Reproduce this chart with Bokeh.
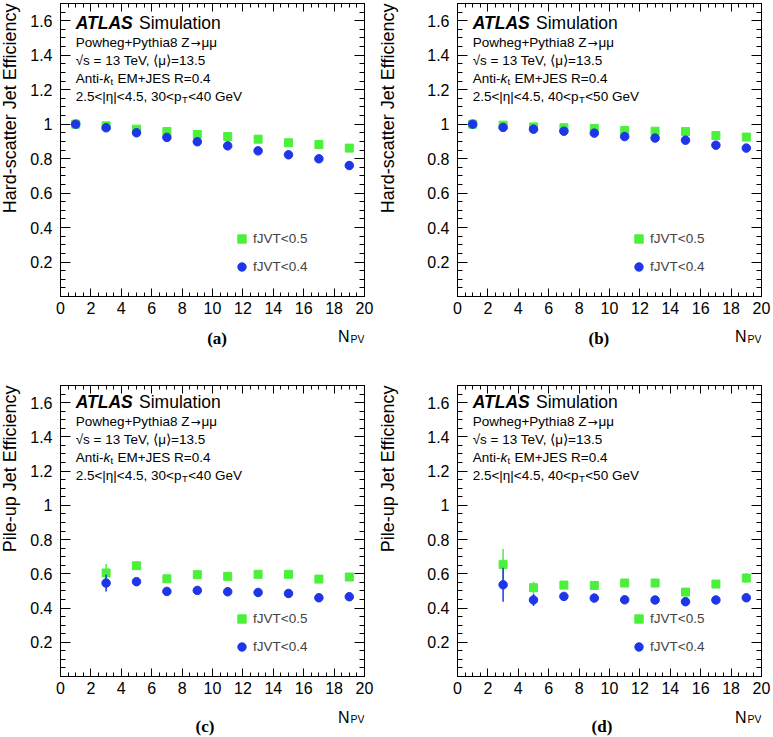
import numpy as np
from bokeh.plotting import figure
from bokeh.models import FixedTicker, LinearAxis, Range1d, Label, Legend, LegendItem
from bokeh.layouts import column, row
from bokeh.embed import file_html
from bokeh.resources import INLINE

# ---------------- data ----------------
npv_hs = [1, 3, 5, 7, 9, 11, 13, 15, 17, 19]
hs30_fjvt05 = [1.000, 0.990, 0.971, 0.957, 0.940, 0.928, 0.913, 0.892, 0.882, 0.861]
hs30_fjvt04 = [1.000, 0.979, 0.950, 0.923, 0.898, 0.874, 0.845, 0.822, 0.799, 0.760]
hs40_fjvt05 = [1.000, 0.994, 0.984, 0.979, 0.975, 0.963, 0.959, 0.957, 0.934, 0.925]
hs40_fjvt04 = [1.000, 0.981, 0.971, 0.959, 0.948, 0.928, 0.919, 0.907, 0.878, 0.861]
hs_err = [0.002, 0.002, 0.002, 0.002, 0.002, 0.003, 0.003, 0.004, 0.005, 0.006]

npv_pu = [3, 5, 7, 9, 11, 13, 15, 17, 19]
pu30_fjvt05 = [0.605, 0.647, 0.571, 0.595, 0.585, 0.597, 0.597, 0.569, 0.581]
pu30_fjvt04 = [0.546, 0.554, 0.497, 0.503, 0.495, 0.491, 0.485, 0.460, 0.466]
pu30_err05 = [0.052, 0.015, 0.010, 0.010, 0.010, 0.010, 0.010, 0.011, 0.012]
pu30_err04 = [0.050, 0.015, 0.010, 0.010, 0.010, 0.010, 0.010, 0.011, 0.012]
pu40_fjvt05 = [0.655, 0.519, 0.534, 0.532, 0.546, 0.546, 0.493, 0.540, 0.575]
pu40_fjvt04 = [0.536, 0.447, 0.468, 0.458, 0.448, 0.447, 0.437, 0.447, 0.460]
pu40_err05 = [0.090, 0.035, 0.012, 0.012, 0.012, 0.012, 0.012, 0.013, 0.028]
pu40_err04 = [0.100, 0.035, 0.012, 0.012, 0.012, 0.012, 0.012, 0.013, 0.025]

x_ticks = [0, 2, 4, 6, 8, 10, 12, 14, 16, 18, 20]
y_ticks = [0.2, 0.4, 0.6, 0.8, 1.0, 1.2, 1.4, 1.6]
legend_labels = ["fJVT<0.5", "fJVT<0.4"]
ylabel_hs = "Hard-scatter Jet Efficiency"
ylabel_pu = "Pile-up Jet Efficiency"

# ---------------- style ----------------
GREEN = "#4cf03c"
BLUE = "#1f35e8"
FONT = "Liberation Sans"
X_MINOR = [i * 0.5 for i in range(41)]
Y_MINOR = [round(i * 0.05, 2) for i in range(35)]
SIDE_W = 24
LIFT = 5  # label baseline correction (px)

# Arial/Liberation Sans advance widths (1/1000 em)
W = {'0': 556, '1': 556, '2': 556, '3': 556, '4': 556, '5': 556, '6': 556, '7': 556, '8': 556, '9': 556,
     '.': 278, ',': 278, '<': 584, '|': 260, ' ': 278, 'p': 556, 'η': 556, 'A': 667, 'n': 556,
     't': 278, 'i': 222, '-': 333, 'T': 611, 'P': 667, 'V': 667, 'L': 611, 'S': 667, 'k': 500,
     'o': 556, 'w': 722, 'h': 556, 'e': 556, 'g': 556, '+': 584, 'y': 500, 'a': 556, 'Z': 611}
WB = {'A': 722, 'T': 611, 'L': 611, 'S': 667}


def tw(s, size, table=W):
    return sum(table.get(c, 556) for c in s) * size / 1000.0


def style_axis(ax, major, minor, tin, minin):
    ax.ticker = FixedTicker(ticks=major, minor_ticks=minor)
    ax.axis_line_color = "black"
    ax.major_tick_line_color = "black"
    ax.minor_tick_line_color = "black"
    ax.major_tick_in = tin
    ax.major_tick_out = 0
    ax.minor_tick_in = minin
    ax.minor_tick_out = 0
    ax.major_label_text_font = FONT
    ax.major_label_text_font_size = "16px"
    ax.major_label_text_color = "black"


def add_mirror(p, side, major, minor, tin, minin):
    # tick marks only (no labels) on the opposite frame edge
    for ticks, length in ((minor, minin), (major, tin)):
        ax = LinearAxis(ticker=FixedTicker(ticks=[], minor_ticks=ticks))
        ax.axis_line_color = "black"
        ax.minor_tick_line_color = "black"
        ax.minor_tick_in = length
        ax.minor_tick_out = 0
        ax.major_tick_in = 0
        ax.major_tick_out = 0
        ax.major_label_standoff = 0
        ax.axis_label_standoff = 0
        p.add_layout(ax, side)


def lab(p, x, y, text, size="13.5px", style="normal", dx=0, dy=0, font=FONT, align="left", angle=0):
    p.add_layout(Label(x=x, y=y, x_offset=dx, y_offset=dy, text=text, text_font=font,
                       text_font_size=size, text_font_style=style, text_align=align, angle=angle,
                       text_baseline="alphabetic", text_color="black"))


def bare_fig(width, height, mbl, mbr, xr, yr):
    p = figure(width=width, height=height, x_range=xr, y_range=yr,
               output_backend="svg", toolbar_location=None,
               x_axis_location=None, y_axis_location=None,
               min_border_left=mbl, min_border_right=mbr, min_border_top=0, min_border_bottom=0)
    p.outline_line_color = None
    p.grid.visible = False
    return p


def main_fig(width, height, mbl, mbr, mbt, mbb):
    p = figure(width=width, height=height, x_range=Range1d(0, 20), y_range=Range1d(0, 1.7),
               output_backend="svg", toolbar_location=None,
               min_border_left=mbl, min_border_right=mbr, min_border_top=mbt, min_border_bottom=mbb)
    p.xgrid.visible = False
    p.ygrid.visible = False
    p.outline_line_color = "black"
    p.outline_line_width = 1
    style_axis(p.xaxis[0], x_ticks, X_MINOR, 8, 4)
    style_axis(p.yaxis[0], y_ticks, Y_MINOR, 10, 5)
    p.yaxis[0].major_label_overrides = {1.0: "1"}
    p.xaxis[0].major_label_standoff = 5
    p.yaxis[0].major_label_standoff = 8
    add_mirror(p, "above", x_ticks, X_MINOR, 8, 4)
    add_mirror(p, "right", y_ticks, Y_MINOR, 10, 5)
    return p


def fill_main(p, x, y05, y04, e05, e04, ptlo, pthi, ys):
    lo05 = [v - e for v, e in zip(y05, e05)]
    hi05 = [v + e for v, e in zip(y05, e05)]
    lo04 = [v - e for v, e in zip(y04, e04)]
    hi04 = [v + e for v, e in zip(y04, e04)]
    p.segment(x, lo05, x, hi05, line_color=GREEN, line_width=1.5)
    g = p.scatter(x, y05, marker="square", size=8, fill_color=GREEN, line_color=GREEN)
    p.segment(x, lo04, x, hi04, line_color=BLUE, line_width=1.5)
    b = p.scatter(x, y04, marker="circle", size=8.5, fill_color=BLUE, line_color=BLUE)

    leg = Legend(items=[LegendItem(label=legend_labels[0], renderers=[g]),
                        LegendItem(label=legend_labels[1], renderers=[b])],
                 location=(171, 19), padding=0, margin=0, spacing=7,
                 glyph_width=21, glyph_height=21, label_height=21, label_standoff=1,
                 label_text_font=FONT, label_text_font_size="13.5px",
                 border_line_color=None, background_fill_alpha=0)
    p.add_layout(leg)

    x0 = 1.0
    L = LIFT
    lab(p, x0, ys[0], "ATLAS", size="17.5px", style="bold italic", dy=L)
    lab(p, x0, ys[0], "Simulation", size="17.5px", dx=tw("ATLAS", 17.5, WB) + 5.0, dy=L)
    s0 = "Powheg+Pythia8 Z"
    w0 = tw(s0, 13.5)
    lab(p, x0, ys[1], s0, dy=L)
    lab(p, x0, ys[1], "→", font="DejaVu Sans", size="12px", dx=w0 + 1.0, dy=L)
    lab(p, x0, ys[1], "μμ", dx=w0 + 1.0 + 0.838 * 12 + 1.0, dy=L)
    lab(p, x0, ys[2], "√s = 13 TeV, ⟨μ⟩=13.5", dy=L)
    w1 = tw("Anti-", 13.5)
    wk = tw("k", 13.5)
    lab(p, x0, ys[3], "Anti-", dy=L)
    lab(p, x0, ys[3], "k", style="italic", dx=w1, dy=L)
    lab(p, x0, ys[3], "t", size="9.5px", dx=w1 + wk + 0.3, dy=L - 3)
    lab(p, x0, ys[3], "EM+JES R=0.4", dx=w1 + wk + tw("t", 9.5) + 0.8 + tw(" ", 13.5), dy=L)
    s1 = "2.5<|η|<4.5, " + ptlo + "<p"
    w2 = tw(s1, 13.5)
    lab(p, x0, ys[4], s1, dy=L)
    lab(p, x0, ys[4], "T", size="9.5px", dx=w2 + 0.5, dy=L - 3)
    lab(p, x0, ys[4], "<" + pthi + " GeV", dx=w2 + 1.0 + tw("T", 9.5), dy=L)


def caption_fig(width, height, mbl, mbr, caption, cap_x, n_base, cap_base):
    p = bare_fig(width, height, mbl, mbr, Range1d(0, 20), Range1d(height, 0))
    lab(p, 20, n_base - LIFT + 2, "PV", size="10.5px", align="right")
    lab(p, 20, n_base - LIFT, "N", size="16px", align="right", dx=-(tw("PV", 10.5) + 1))
    lab(p, cap_x, cap_base - LIFT, caption, size="17px", style="bold", font="Liberation Serif", align="center")
    return p


def side_fig(height, text, xb, ytop):
    p = bare_fig(SIDE_W, height, 0, 0, Range1d(0, SIDE_W), Range1d(height, 0))
    lab(p, xb - LIFT, ytop, text, size="18px", align="right", angle=np.pi / 2)
    return p


# geometry (pixels)
A_MAIN_W, B_MAIN_W = 354, 371
A_MBL, A_MBR = 36, 14
B_MBL, B_MBR = 55, 12
TOP_MAIN_H, TOP_CAP_H = 320, 45
BOT_MAIN_H, BOT_CAP_H = 335, 36

pa = main_fig(A_MAIN_W, TOP_MAIN_H, A_MBL, A_MBR, 3, 24)
pb = main_fig(B_MAIN_W, TOP_MAIN_H, B_MBL, B_MBR, 3, 24)
pc = main_fig(A_MAIN_W, BOT_MAIN_H, A_MBL, A_MBR, 20, 24)
pd = main_fig(B_MAIN_W, BOT_MAIN_H, B_MBL, B_MBR, 20, 24)

ys_top = [1.557, 1.444, 1.342, 1.235, 1.131]
ys_bot = [1.573, 1.460, 1.355, 1.251, 1.144]

fill_main(pa, npv_hs, hs30_fjvt05, hs30_fjvt04, hs_err, hs_err, "30", "40", ys_top)
fill_main(pb, npv_hs, hs40_fjvt05, hs40_fjvt04, hs_err, hs_err, "40", "50", ys_top)
fill_main(pc, npv_pu, pu30_fjvt05, pu30_fjvt04, pu30_err05, pu30_err04, "30", "40", ys_bot)
fill_main(pd, npv_pu, pu40_fjvt05, pu40_fjvt04, pu40_err05, pu40_err04, "40", "50", ys_bot)

ca = caption_fig(A_MAIN_W, TOP_CAP_H, A_MBL, A_MBR, "(a)", 10.3, 21, 23.3)
cb = caption_fig(B_MAIN_W, TOP_CAP_H, B_MBL, B_MBR, "(b)", 9.3, 21, 23.3)
cc = caption_fig(A_MAIN_W, BOT_CAP_H, A_MBL, A_MBR, "(c)", 9.5, 21.7, 31.3)
cd = caption_fig(B_MAIN_W, BOT_CAP_H, B_MBL, B_MBR, "(d)", 9.5, 21.7, 31.3)

sa = side_fig(TOP_MAIN_H + TOP_CAP_H, ylabel_hs, 14.8, 3)
sb = side_fig(TOP_MAIN_H + TOP_CAP_H, ylabel_hs, 14.5, 3)
sc = side_fig(BOT_MAIN_H + BOT_CAP_H, ylabel_pu, 14.8, 20)
sd = side_fig(BOT_MAIN_H + BOT_CAP_H, ylabel_pu, 14.5, 20)

layout = column(
    row(sa, column(pa, ca), sb, column(pb, cb)),
    row(sc, column(pc, cc), sd, column(pd, cd)),
)
open("out.html", "w").write(file_html(layout, INLINE))
